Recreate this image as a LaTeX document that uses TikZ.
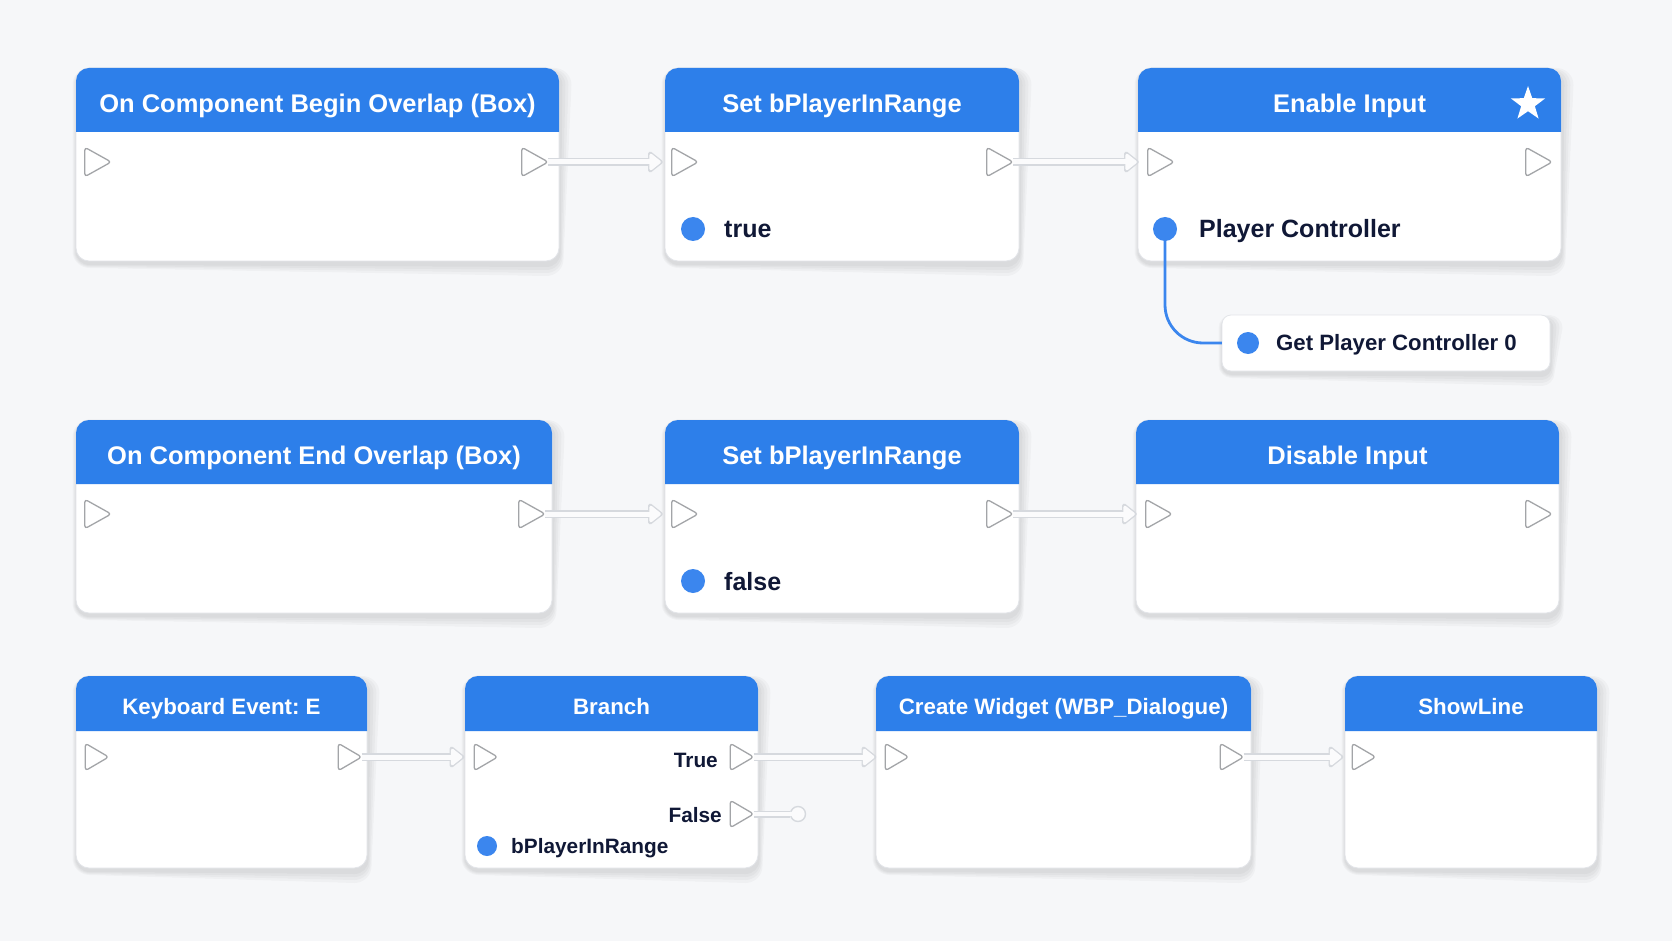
\documentclass[tikz,border=0pt]{standalone}
\usepackage{fontspec}
\setmainfont{Liberation Sans}
\usetikzlibrary{shapes.geometric,arrows.meta}
\definecolor{bgc}{HTML}{F6F7F9}
\definecolor{hdr}{HTML}{2D7FEA}
\definecolor{pinblue}{HTML}{3B86EE}
\definecolor{txt}{HTML}{101836}
\definecolor{execgray}{HTML}{A3A5A8}
\definecolor{panelborder}{HTML}{E3E5E9}
\definecolor{flowedge}{HTML}{D6D9DE}
\definecolor{flowfill}{HTML}{FBFBFC}
\frenchspacing

% rounded rectangle path: x1, y1, x2, y2, r   (y grows downward)
\newcommand\rrpath[5]{(#1,{#2+#5}) arc[start angle=180,end angle=270,radius=#5] -- ({#3-#5},#2) arc[start angle=270,end angle=360,radius=#5] -- (#3,{#4-#5}) arc[start angle=0,end angle=90,radius=#5] -- ({#1+#5},#4) arc[start angle=90,end angle=180,radius=#5] -- cycle}
% panel with soft shadow: name, x1, y1, x2, y2, r
\newcommand\bppanel[6]{%
  \foreach \s in {1,2,3,4}{%
    \fill[black, opacity=0.028] \rrpath{#2-\s+0.5}{#3-\s+4}{#4+\s+0.5}{#5+\s+3}{#6+\s};
  }
  \filldraw[fill=white, draw=panelborder, line width=0.8pt] \rrpath{#2}{#3}{#4}{#5}{#6};
  \node[pinbox, minimum width={(#4-#2)*1pt}, minimum height={(#5-#3)*1pt}] (#1) at ({(#2+#4)/2},{(#3+#5)/2}) {};
}
% name, x1, y1, x2, y2, header bottom, title, title style
\newcommand\bpblock[8]{%
  \bppanel{#1}{#2}{#3}{#4}{#5}{13}
  \fill[hdr] (#2,#6) -- (#2,{#3+13}) arc[start angle=180,end angle=270,radius=13] -- ({#4-13},#3) arc[start angle=270,end angle=360,radius=13] -- (#4,#6) -- cycle;
  \node[#8] (#1-t) at ({(#2+#4)/2},{(#3+#6)/2+3}) {#7};
}
% name, x, y, w, h
\newcommand\bpexec[5]{%
  \node[pinbox, minimum width=#4, minimum height=#5] (#1) at (#2,#3) {};
  \draw[exec] (#1.north west) -- (#1.east) -- (#1.south west) -- cycle;
}
% from, to, shorten
\newcommand\bpflow[3]{%
  \draw[flowout, shorten >=#3] (#1.east) -- (#2.west);
  \draw[flowin, shorten >=#3+2] (#1.east) -- (#2.west);
}

\begin{document}
\begin{tikzpicture}[x=1pt,y=-1pt,
  hdrtext/.style={text=white, font=\bfseries\fontsize{25.5}{30}\selectfont, inner sep=0pt, text height=18.3pt, text depth=0pt},
  hdrsmall/.style={text=white, font=\bfseries\fontsize{22.3}{26}\selectfont, inner sep=0pt, text height=16pt, text depth=0pt},
  pinbox/.style={rectangle, inner sep=0pt, draw=none},
  exec/.style={draw=execgray, fill=white, line width=1.3pt, rounded corners=3pt, line join=round},
  datapin/.style={circle, fill=pinblue, inner sep=0pt, draw=none},
  bodytxt/.style={text=txt, font=\bfseries\fontsize{25}{30}\selectfont, anchor=west, inner sep=0pt, text height=18pt, text depth=0pt},
  smalltxt/.style={text=txt, font=\bfseries\fontsize{20.8}{25}\selectfont, inner sep=0pt, text height=15pt, text depth=0pt},
  flowout/.style={draw=flowedge, line width=8pt, -{Triangle[round, length=16pt, width=24pt]}},
  flowin/.style={draw=flowfill, line width=5pt, -{Triangle[round, length=12.5pt, width=19pt]}},
  wire/.style={draw=pinblue, line width=2.8pt, rounded corners=38pt},
]
\fill[bgc] (0,0) rectangle (1672,941);
\useasboundingbox (0,0) rectangle (1672,941);

% ---------- Row 1 ----------
\bpblock{A}{76}{68}{559}{261}{132}{On Component Begin Overlap (Box)}{hdrtext}
\bpexec{Ain}{98}{162}{26}{29}
\bpexec{Aout}{535}{162}{26}{29}

\bpblock{B}{665}{68}{1019}{261}{132}{Set bPlayerInRange}{hdrtext}
\bpexec{Bin}{685}{162}{26}{29}
\bpexec{Bout}{1000}{162}{26}{29}
\node[datapin, minimum size=24] (Bval) at (693,229) {};
\node[bodytxt] (Bvalt) at (724,229) {true};

\bpblock{C}{1138}{68}{1561}{261}{132}{Enable Input}{hdrtext}
\node[star, star points=5, star point ratio=2.5, fill=white, minimum size=36, inner sep=0pt] (Cstar) at (1528,104) {};
\bpexec{Cin}{1161}{162}{26}{29}
\bpexec{Cout}{1539}{162}{26}{29}

\bppanel{GPC}{1222}{315}{1550}{371}{9}
\draw[wire] (1165,229) |- (GPC.west);
\node[datapin, minimum size=24] (Cpc) at (1165,229) {};
\node[bodytxt] (Cpct) at (1199,229) {Player Controller};
\node[datapin, minimum size=22] (GPCpin) at (1248,343) {};
\node[smalltxt, anchor=west, font=\bfseries\fontsize{22.2}{26}\selectfont] (GPCt) at (1276,343) {Get Player Controller 0};

\bpflow{Aout}{Bin}{9}
\bpflow{Bout}{Cin}{9}

% ---------- Row 2 ----------
\bpblock{D}{76}{420}{552}{613}{484}{On Component End Overlap (Box)}{hdrtext}
\bpexec{Din}{98}{514}{26}{29}
\bpexec{Dout}{532}{514}{26}{29}

\bpblock{E}{665}{420}{1019}{613}{484}{Set bPlayerInRange}{hdrtext}
\bpexec{Ein}{685}{514}{26}{29}
\bpexec{Eout}{1000}{514}{26}{29}
\node[datapin, minimum size=24] (Eval) at (693,581) {};
\node[bodytxt] (Evalt) at (724,581) {false};

\bpblock{F}{1136}{420}{1559}{613}{484}{Disable Input}{hdrtext}
\bpexec{Fin}{1159}{514}{26}{29}
\bpexec{Fout}{1539}{514}{26}{29}

\bpflow{Dout}{Ein}{9}
\bpflow{Eout}{Fin}{9}

% ---------- Row 3 ----------
\bpblock{G}{76}{676}{367}{868}{731}{Keyboard Event: E}{hdrsmall}
\bpexec{Gin}{97}{757}{23}{27}
\bpexec{Gout}{350}{757}{23}{27}

\bpblock{H}{465}{676}{758}{868}{731}{Branch}{hdrsmall}
\bpexec{Hin}{486}{757}{23}{27}
\bpexec{Htrue}{742}{757}{23}{27}
\bpexec{Hfalse}{742}{814}{23}{27}
\node[smalltxt, anchor=east] (Htruet) at (718,760) {True};
\node[smalltxt, anchor=east] (Hfalset) at (722,815) {False};
\node[datapin, minimum size=20] (Hcond) at (487,846) {};
\node[smalltxt, anchor=west] (Hcondt) at (511,846) {bPlayerInRange};
\node[circle, minimum size=15, inner sep=0pt, fill=flowfill, draw=flowedge, line width=1.4pt] (Hstub) at (798,814) {};
\draw[draw=flowedge, line width=7pt] (Hfalse.east) -- (Hstub.west);
\draw[draw=flowfill, line width=4.2pt] (Hfalse.east) -- (Hstub.center);
\node[circle, minimum size=12, inner sep=0pt, fill=flowfill] at (Hstub) {};

\bpblock{I}{876}{676}{1251}{868}{731}{Create Widget (WBP\_Dialogue)}{hdrsmall}
\bpexec{Iin}{897}{757}{23}{27}
\bpexec{Iout}{1232}{757}{23}{27}

\bpblock{J}{1345}{676}{1597}{868}{731}{ShowLine}{hdrsmall}
\bpexec{Jin}{1364}{757}{23}{27}

\bpflow{Gout}{Hin}{10}
\bpflow{Htrue}{Iin}{9}
\bpflow{Iout}{Jin}{9}
\end{tikzpicture}
\end{document}
